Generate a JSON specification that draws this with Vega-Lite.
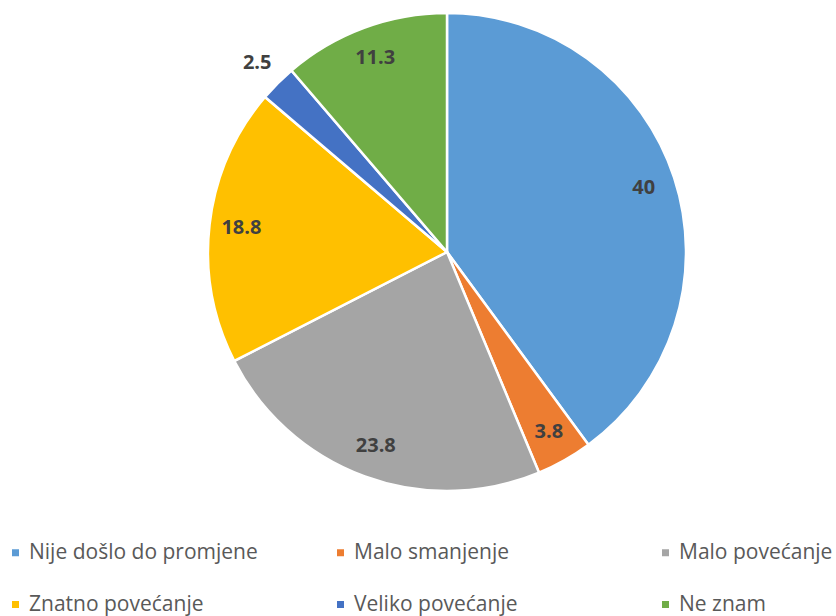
{
  "$schema": "https://vega.github.io/schema/vega-lite/v6.json",
  "width": 778,
  "height": 504,
  "autosize": {"type": "none"},
  "padding": {"left": 58, "top": 0, "right": 0, "bottom": 112},
  "background": "white",
  "config": {"view": {"stroke": null}},
  "data": {
    "values": [
      {"idx": 1, "category": "Nije došlo do promjene", "value": 40},
      {"idx": 2, "category": "Malo smanjenje", "value": 3.8},
      {"idx": 3, "category": "Malo povećanje", "value": 23.8},
      {"idx": 4, "category": "Znatno povećanje", "value": 18.8},
      {"idx": 5, "category": "Veliko povećanje", "value": 2.5},
      {"idx": 6, "category": "Ne znam", "value": 11.3}
    ]
  },
  "encoding": {
    "theta": {"field": "value", "type": "quantitative", "stack": true},
    "order": {"field": "idx", "type": "quantitative"},
    "color": {
      "field": "category",
      "type": "nominal",
      "scale": {
        "domain": ["Nije došlo do promjene", "Malo smanjenje", "Malo povećanje", "Znatno povećanje", "Veliko povećanje", "Ne znam"],
        "range": ["#5B9BD5", "#ED7D31", "#A5A5A5", "#FFC000", "#4472C4", "#70AD47"]
      },
      "legend": {
        "title": null,
        "orient": "none",
        "legendX": -53,
        "legendY": 542,
        "direction": "horizontal",
        "columns": 3,
        "gridAlign": "all",
        "columnPadding": 72,
        "rowPadding": 30,
        "symbolType": "square",
        "symbolSize": 49,
        "symbolStrokeWidth": 0,
        "labelFont": "Open Sans",
        "labelFontSize": 21,
        "labelColor": "#595959",
        "labelOffset": 3,
        "labelLimit": 400
      }
    }
  },
  "layer": [
    {
      "mark": {"type": "arc", "outerRadius": 239, "stroke": "white", "strokeWidth": 2.5}
    },
    {
      "mark": {"type": "text", "font": "Open Sans", "fontSize": 20, "fontWeight": "bold", "radius": 207},
      "encoding": {
        "text": {"condition": {"test": "datum.value >= 3", "field": "value", "type": "quantitative"}, "value": ""},
        "color": {"value": "#404040"}
      }
    },
    {
      "mark": {"type": "text", "font": "Open Sans", "fontSize": 20, "fontWeight": "bold", "radius": 268},
      "encoding": {
        "text": {"condition": {"test": "datum.value < 3", "field": "value", "type": "quantitative"}, "value": ""},
        "color": {"value": "#404040"}
      }
    }
  ]
}
